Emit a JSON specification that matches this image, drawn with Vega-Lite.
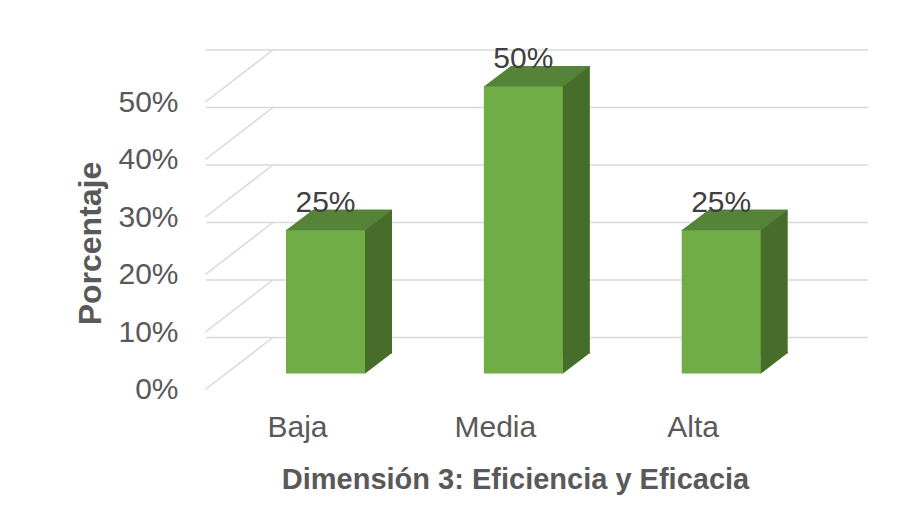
{
  "$schema": "https://vega.github.io/schema/vega-lite/v6.json",
  "width": 595,
  "height": 287.5,
  "autosize": "none",
  "padding": {"left": 206, "top": 86, "right": 116, "bottom": 146.5},
  "background": "white",
  "config": {"view": {"stroke": null}, "font": "Liberation Sans"},
  "datasets": {
    "bars": [
      {"nivel": "Baja", "pct": 0.25},
      {"nivel": "Media", "pct": 0.5},
      {"nivel": "Alta", "pct": 0.25}
    ],
    "grid": [{"v": 0}, {"v": 0.1}, {"v": 0.2}, {"v": 0.3}, {"v": 0.4}, {"v": 0.5}]
  },
  "layer": [
    {
      "data": {"name": "bars"},
      "mark": {"type": "bar", "color": "#70AD47", "opacity": 0},
      "encoding": {
        "x": {
          "field": "nivel",
          "type": "nominal",
          "scale": {"domain": ["Baja", "Media", "Alta"], "paddingInner": 0.6007, "paddingOuter": 0.304, "align": 0.665},
          "axis": {
            "domain": false, "ticks": false, "labelAngle": 0,
            "labelFontSize": 30, "labelColor": "#595959", "labelFont": "Liberation Sans",
            "labelPadding": 39, "labelOffset": -28,
            "title": "Dimensión 3: Eficiencia y Eficacia",
            "titleFont": "Liberation Sans", "titleFontSize": 29, "titleFontWeight": "bold", "titleColor": "#595959",
            "titleX": 309, "titleY": 92, "titleBaseline": "top", "titleAlign": "center"
          }
        },
        "y": {
          "field": "pct",
          "type": "quantitative",
          "scale": {"domain": [0, 0.5], "nice": false, "zero": true},
          "axis": {
            "values": [0, 0.1, 0.2, 0.3, 0.4, 0.5], "format": ".0%",
            "domain": false, "ticks": false, "grid": false, "labelFlush": false,
            "labelFontSize": 30, "labelColor": "#595959", "labelFont": "Liberation Sans",
            "labelOffset": 16, "labelPadding": 28,
            "title": "Porcentaje",
            "titleFont": "Liberation Sans", "titleFontSize": 32, "titleFontWeight": "bold", "titleColor": "#595959",
            "titleX": -106, "titleY": 157, "titleAngle": 270, "titleBaseline": "alphabetic", "titleAlign": "center"
          }
        }
      }
    },
    {
      "data": {"name": "grid"},
      "mark": {"type": "rule", "color": "#D9D9D9", "strokeWidth": 1.5, "xOffset": 67, "x2Offset": 67, "yOffset": -36},
      "encoding": {
        "y": {"field": "v", "type": "quantitative", "title": "Porcentaje"}
      }
    },
    {
      "data": {"name": "grid"},
      "mark": {"type": "point", "shape": "M-318,16L-250.5,-36", "size": 4, "filled": false, "stroke": "#D9D9D9", "strokeWidth": 1.5, "opacity": 1},
      "encoding": {
        "x": {"datum": "Media", "type": "nominal", "title": "Dimensión 3: Eficiencia y Eficacia"},
        "y": {"field": "v", "type": "quantitative", "title": "Porcentaje"}
      }
    },
    {
      "data": {"name": "bars"},
      "mark": {"type": "bar", "color": "#466D2A", "xOffset": 27, "yOffset": -20, "y2Offset": -20},
      "encoding": {
        "x": {"field": "nivel", "type": "nominal", "title": "Dimensión 3: Eficiencia y Eficacia"},
        "y": {"field": "pct", "type": "quantitative", "title": "Porcentaje"}
      }
    },
    {
      "data": {"name": "bars"},
      "mark": {"type": "point", "shape": "M39,0.5L66.5,-20.5L66.5,-21.5L39,-21.5Z", "size": 4, "filled": true, "color": "#466D2A", "opacity": 1, "strokeWidth": 0},
      "encoding": {
        "x": {"field": "nivel", "type": "nominal", "title": "Dimensión 3: Eficiencia y Eficacia"},
        "y": {"datum": 0, "type": "quantitative", "title": "Porcentaje"}
      }
    },
    {
      "data": {"name": "bars"},
      "mark": {"type": "bar", "color": "#70AD47"},
      "encoding": {
        "x": {"field": "nivel", "type": "nominal", "title": "Dimensión 3: Eficiencia y Eficacia"},
        "y": {"field": "pct", "type": "quantitative", "title": "Porcentaje"}
      }
    },
    {
      "data": {"name": "bars"},
      "mark": {"type": "point", "shape": "M-39.5,0.5L40,0.5L66.5,-20L-12.5,-20Z", "size": 4, "filled": true, "color": "#558338", "opacity": 1, "strokeWidth": 0},
      "encoding": {
        "x": {"field": "nivel", "type": "nominal", "title": "Dimensión 3: Eficiencia y Eficacia"},
        "y": {"field": "pct", "type": "quantitative", "title": "Porcentaje"}
      }
    },
    {
      "data": {"name": "bars"},
      "mark": {"type": "text", "fontSize": 30, "color": "#404040", "baseline": "alphabetic", "align": "center", "dy": -18, "font": "Liberation Sans"},
      "encoding": {
        "x": {"field": "nivel", "type": "nominal", "title": "Dimensión 3: Eficiencia y Eficacia"},
        "y": {"field": "pct", "type": "quantitative", "title": "Porcentaje"},
        "text": {"field": "pct", "type": "quantitative", "format": ".0%"}
      }
    }
  ]
}
